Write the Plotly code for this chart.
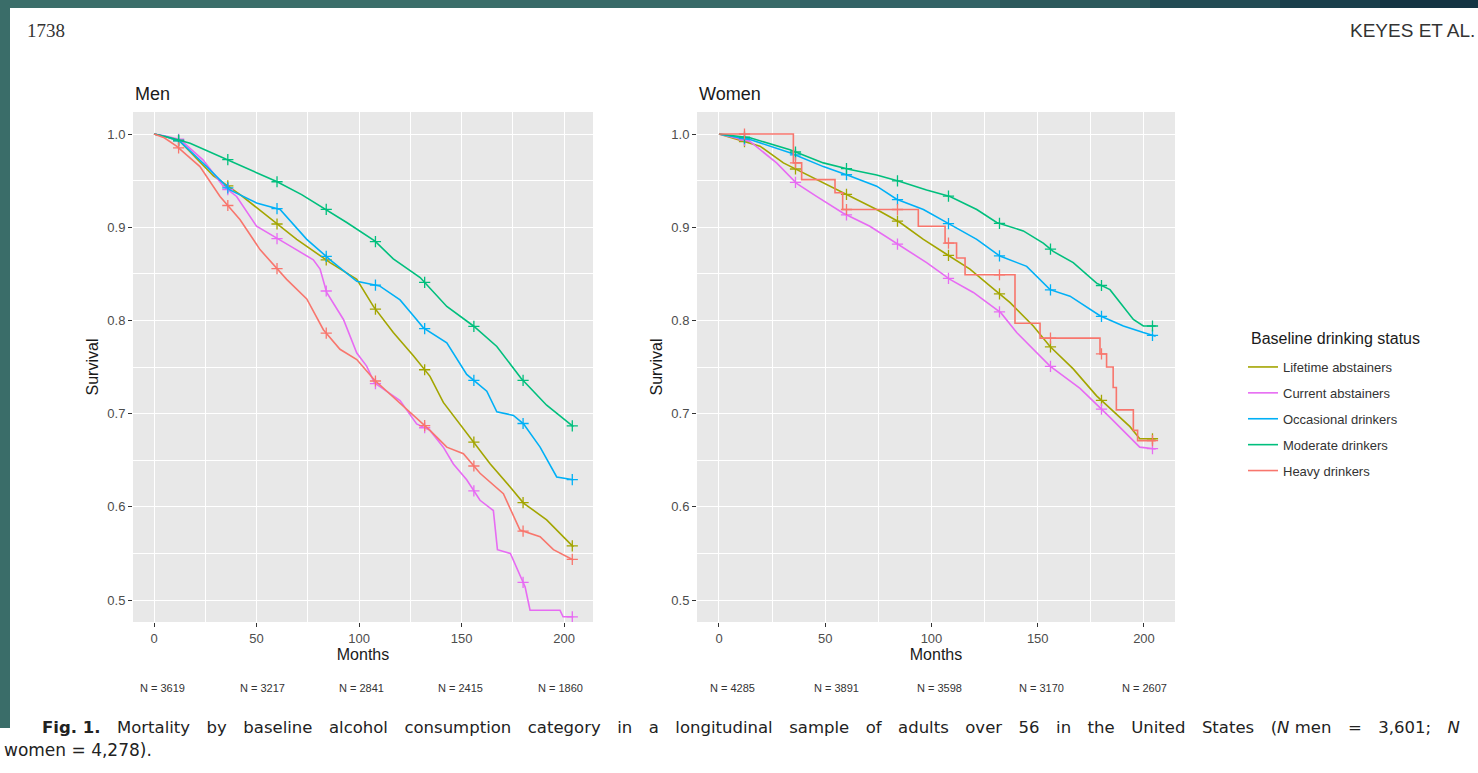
import numpy as np
import plotly.graph_objects as go

W, H = 1478, 773

# ---------------- data ----------------
CATEGORIES = ["Lifetime abstainers", "Current abstainers", "Occasional drinkers",
              "Moderate drinkers", "Heavy drinkers"]

# Men (months, survival)
men_lifetime_t = [0, 6, 12.7, 29, 42, 55, 69.6, 85.9, 98.9, 107, 116.7, 126.5, 134.6, 141.1, 154.1, 164, 173.8, 180.2, 191.5, 204.5]
men_lifetime_s = [1.0, 0.997, 0.992, 0.955, 0.935, 0.912, 0.887, 0.862, 0.844, 0.815, 0.787, 0.762, 0.740, 0.712, 0.675, 0.646, 0.621, 0.604, 0.586, 0.557]

men_current_t = [0, 5, 12.7, 24, 33.8, 40.3, 50, 58.2, 66.3, 77.7, 81, 84.2, 92.4, 98.9, 103.7, 107.5, 120, 128.1, 134.6, 141.1, 146, 152.5, 159, 165.5, 167.5, 173.8, 181, 183.4, 198, 199.5, 204.5]
men_current_s = [1.0, 0.998, 0.994, 0.972, 0.944, 0.933, 0.901, 0.890, 0.880, 0.865, 0.855, 0.830, 0.801, 0.765, 0.751, 0.733, 0.714, 0.689, 0.682, 0.664, 0.646, 0.629, 0.607, 0.596, 0.554, 0.550, 0.514, 0.489, 0.489, 0.482, 0.482]

men_occasional_t = [0, 6, 12.7, 25.7, 37, 50, 61.5, 74.5, 85.9, 98.9, 110, 120, 126.5, 131.4, 142.8, 152.5, 162.3, 167.2, 175.3, 180.2, 188.3, 196.4, 204.5]
men_occasional_s = [1.0, 0.997, 0.992, 0.965, 0.940, 0.926, 0.919, 0.887, 0.865, 0.842, 0.837, 0.822, 0.805, 0.792, 0.776, 0.742, 0.724, 0.702, 0.698, 0.689, 0.664, 0.632, 0.629]

men_moderate_t = [0, 8, 17.6, 35.4, 47, 59.8, 72, 82.6, 94, 107.8, 116.7, 129.8, 142.8, 155.8, 167.2, 179, 191.5, 204.5]
men_moderate_s = [1.0, 0.996, 0.990, 0.973, 0.962, 0.949, 0.935, 0.921, 0.905, 0.885, 0.866, 0.846, 0.815, 0.794, 0.772, 0.738, 0.709, 0.686]

men_heavy_t = [0, 5, 11, 22.4, 32.2, 42, 51.7, 64.7, 74.5, 82.6, 90.7, 98.9, 107.5, 120, 134.6, 142.8, 150.9, 159, 170.4, 178.5, 188.3, 194.8, 204.5]
men_heavy_s = [1.0, 0.996, 0.987, 0.965, 0.933, 0.908, 0.876, 0.844, 0.823, 0.790, 0.769, 0.758, 0.736, 0.711, 0.682, 0.664, 0.657, 0.636, 0.614, 0.575, 0.568, 0.554, 0.543]

# Women (months, survival)
women_lifetime_t = [0, 19.3, 30.3, 46, 58.5, 74.2, 85.2, 96.2, 107.1, 118.1, 127.5, 137, 147.9, 155.8, 166.7, 177.7, 193.4, 198, 205.5]
women_lifetime_s = [1.0, 0.987, 0.969, 0.951, 0.937, 0.919, 0.905, 0.887, 0.871, 0.855, 0.837, 0.819, 0.794, 0.772, 0.748, 0.719, 0.686, 0.673, 0.673]

women_current_t = [0, 14.6, 27.1, 36.5, 45.9, 58.5, 71, 85.2, 97.7, 108.7, 119.7, 132.7, 140.1, 155.8, 169.9, 184, 193.4, 198, 205.5]
women_current_s = [1.0, 0.992, 0.969, 0.947, 0.933, 0.915, 0.901, 0.880, 0.862, 0.844, 0.830, 0.808, 0.787, 0.751, 0.727, 0.696, 0.675, 0.664, 0.662]

women_occasional_t = [0, 14.6, 33.4, 49.1, 61.6, 74.2, 83.6, 96.2, 108.7, 121.3, 132.2, 144.8, 155.8, 165.2, 179.3, 190.3, 199.7, 205.5]
women_occasional_s = [1.0, 0.994, 0.980, 0.965, 0.955, 0.944, 0.930, 0.919, 0.903, 0.887, 0.869, 0.858, 0.833, 0.826, 0.805, 0.794, 0.787, 0.783]

women_moderate_t = [0, 14.6, 33.4, 49.1, 61.6, 74.2, 85.2, 97.7, 108.7, 121.3, 130.7, 143.2, 152.6, 157.3, 166.7, 177.7, 184, 190.3, 195, 199.7, 205.5]
women_moderate_s = [1.0, 0.996, 0.983, 0.969, 0.962, 0.956, 0.949, 0.940, 0.933, 0.919, 0.905, 0.896, 0.883, 0.874, 0.862, 0.840, 0.833, 0.815, 0.801, 0.794, 0.794]

women_heavy_t = [0, 35.0, 38.9, 54.6, 58.2, 93.8, 106.4, 111.8, 115.8, 139.3, 151.1, 179.3, 182.4, 185.5, 187.0, 195.0, 197.0, 205.5]
women_heavy_s = [1.0, 0.969, 0.951, 0.937, 0.919, 0.901, 0.883, 0.867, 0.849, 0.797, 0.781, 0.764, 0.750, 0.728, 0.704, 0.682, 0.671, 0.671]

CENSOR_MONTHS = [12, 36, 60, 84, 108, 132, 156, 180, 204]

X_TICKS = [0, 50, 100, 150, 200]
Y_TICKS = [0.5, 0.6, 0.7, 0.8, 0.9, 1.0]

RISK_MONTHS = [0, 50, 100, 150, 200]
MEN_AT_RISK = [3619, 3217, 2841, 2415, 1860]
WOMEN_AT_RISK = [4285, 3891, 3598, 3170, 2607]

CAPTION_1 = ("<b>Fig. 1.</b> Mortality by baseline alcohol consumption category in a longitudinal "
             "sample of adults over 56 in the United States (<i>N</i> men = 3,601; <i>N</i>")
CAPTION_2 = "women = 4,278)."

# ---------------- style ----------------
COLORS = {
    "Lifetime abstainers": "#A3A500",
    "Current abstainers": "#E76BF3",
    "Occasional drinkers": "#00B0F6",
    "Moderate drinkers": "#00BF7D",
    "Heavy drinkers": "#F8766D",
}
FONT = "Liberation Sans, Arial, Helvetica, sans-serif"
CAPTION_FONT = "DejaVu Sans, Liberation Sans, Arial, sans-serif"

men_series = {
    "Lifetime abstainers": (men_lifetime_t, men_lifetime_s, "linear"),
    "Current abstainers": (men_current_t, men_current_s, "linear"),
    "Occasional drinkers": (men_occasional_t, men_occasional_s, "linear"),
    "Moderate drinkers": (men_moderate_t, men_moderate_s, "linear"),
    "Heavy drinkers": (men_heavy_t, men_heavy_s, "linear"),
}
women_series = {
    "Lifetime abstainers": (women_lifetime_t, women_lifetime_s, "linear"),
    "Current abstainers": (women_current_t, women_current_s, "linear"),
    "Occasional drinkers": (women_occasional_t, women_occasional_s, "linear"),
    "Moderate drinkers": (women_moderate_t, women_moderate_s, "linear"),
    "Heavy drinkers": (women_heavy_t, women_heavy_s, "hv"),
}


def value_at(t, s, shape, when):
    t = np.asarray(t, float)
    s = np.asarray(s, float)
    if shape == "hv":
        idx = np.searchsorted(t, when, side="right") - 1
        return s[np.clip(idx, 0, len(s) - 1)]
    return np.interp(when, t, s)


fig = go.Figure()

for panel, series, xa, ya in [("men", men_series, "x", "y"), ("women", women_series, "x2", "y2")]:
    for cat in CATEGORIES:
        t, s, shape = series[cat]
        col = COLORS[cat]
        fig.add_trace(go.Scatter(
            x=t, y=s, mode="lines", name=cat, legendgroup=cat,
            showlegend=(panel == "men"), xaxis=xa, yaxis=ya,
            line=dict(color=col, width=1.6, shape=shape),
            hoverinfo="skip"))
        cm = [m for m in CENSOR_MONTHS if m <= max(t)]
        fig.add_trace(go.Scatter(
            x=cm, y=[float(value_at(t, s, shape, m)) for m in cm],
            mode="markers", legendgroup=cat, showlegend=False,
            xaxis=xa, yaxis=ya,
            marker=dict(symbol="cross-thin-open", size=8, color=col,
                        line=dict(color=col, width=1.3)),
            hoverinfo="skip"))


def px_x(p):
    return p / W


def px_y(p):
    return 1 - p / H


axis_common = dict(
    showgrid=True, gridcolor="white", gridwidth=1.2,
    zeroline=False, showline=False,
    ticks="outside", ticklen=4, tickwidth=1, tickcolor="#333333",
    tickfont=dict(family=FONT, size=13, color="#4D4D4D"),
)

y_dom = [px_y(622), px_y(112)]
y_rng = [0.4764, 1.0236]

fig.update_layout(
    width=W, height=H,
    margin=dict(l=0, r=0, t=0, b=0),
    paper_bgcolor="white",
    plot_bgcolor="#E8E8E8",
    font=dict(family=FONT, color="#1A1A1A"),
    xaxis=dict(domain=[px_x(133), px_x(593)], range=[-10.24, 214.1], anchor="y",
               tickvals=X_TICKS, minor=dict(dtick=25, tick0=0, showgrid=True, gridcolor="white", gridwidth=0.6),
               title=dict(text="Months", font=dict(size=16, color="#1A1A1A"), standoff=4), **axis_common),
    yaxis=dict(domain=y_dom, range=y_rng, anchor="x",
               tickvals=Y_TICKS, tickformat=".1f",
               minor=dict(dtick=0.05, tick0=0, showgrid=True, gridcolor="white", gridwidth=0.6),
               title=dict(text="Survival", font=dict(size=16, color="#1A1A1A"), standoff=4), **axis_common),
    xaxis2=dict(domain=[px_x(697), px_x(1175)], range=[-10.35, 214.6], anchor="y2",
                tickvals=X_TICKS, minor=dict(dtick=25, tick0=0, showgrid=True, gridcolor="white", gridwidth=0.6),
                title=dict(text="Months", font=dict(size=16, color="#1A1A1A"), standoff=4), **axis_common),
    yaxis2=dict(domain=y_dom, range=y_rng, anchor="x2",
                tickvals=Y_TICKS, tickformat=".1f",
                minor=dict(dtick=0.05, tick0=0, showgrid=True, gridcolor="white", gridwidth=0.6),
                title=dict(text="Survival", font=dict(size=16, color="#1A1A1A"), standoff=4), **axis_common),
    legend=dict(
        x=px_x(1243), y=px_y(352), xanchor="left", yanchor="top",
        font=dict(size=13, color="#333333"),
        bgcolor="rgba(0,0,0,0)", tracegroupgap=6, itemwidth=30,
    ),
    showlegend=True,
)

annotations = []
# legend title
annotations.append(dict(text="Baseline drinking status", x=px_x(1249), y=px_y(338),
                        xref="paper", yref="paper", xanchor="left", yanchor="middle",
                        showarrow=False, font=dict(size=16, color="#1A1A1A")))
# panel titles
annotations.append(dict(text="Men", x=px_x(133), y=px_y(94), xref="paper", yref="paper",
                        xanchor="left", yanchor="middle", showarrow=False,
                        font=dict(size=18, color="#1A1A1A")))
annotations.append(dict(text="Women", x=px_x(697), y=px_y(94), xref="paper", yref="paper",
                        xanchor="left", yanchor="middle", showarrow=False,
                        font=dict(size=18, color="#1A1A1A")))

# number at risk tables
men_shift = [8, 6, 2, -1, -4]
women_shift = [14, 11, 8, 4, 1]
for i, (m, n) in enumerate(zip(RISK_MONTHS, MEN_AT_RISK)):
    annotations.append(dict(text=f"N = {n}", x=m, xref="x", y=px_y(688), yref="paper",
                            xshift=men_shift[i], showarrow=False, xanchor="center", yanchor="middle",
                            font=dict(size=11, color="#333333")))
for i, (m, n) in enumerate(zip(RISK_MONTHS, WOMEN_AT_RISK)):
    annotations.append(dict(text=f"N = {n}", x=m, xref="x2", y=px_y(688), yref="paper",
                            xshift=women_shift[i], showarrow=False, xanchor="center", yanchor="middle",
                            font=dict(size=11, color="#333333")))

# page header
annotations.append(dict(text="1738", x=px_x(25), y=px_y(31), xref="paper", yref="paper",
                        xanchor="left", yanchor="middle", showarrow=False,
                        font=dict(family="Liberation Serif, Times New Roman, serif", size=19, color="#333333")))
annotations.append(dict(text="KEYES ET AL.", x=px_x(1477), y=px_y(31), xref="paper", yref="paper",
                        xanchor="right", yanchor="middle", showarrow=False,
                        font=dict(size=19, color="#333333")))

# caption (first line is justified in the source: widen the word gaps)
annotations.append(dict(
    text=CAPTION_1.replace(" ", "\u2003").replace("<b>Fig.\u20031.</b>", "<b>Fig. 1.</b>")
                  .replace("<i>N</i>\u2003men", "<i>N</i> men"),
    x=px_x(40), y=px_y(727), xref="paper", yref="paper", xanchor="left", yanchor="middle",
    showarrow=False, font=dict(family=CAPTION_FONT, size=16.5, color="#222222")))
annotations.append(dict(
    text=CAPTION_2,
    x=px_x(2), y=px_y(749.5), xref="paper", yref="paper", xanchor="left", yanchor="middle",
    showarrow=False, font=dict(family=CAPTION_FONT, size=17, color="#222222")))

fig.update_layout(annotations=annotations)

# teal page border (slide background)
shapes = []
band_cols = ["#3B6E6A", "#386A68", "#336366", "#2C595C", "#234B54", "#1A3F4B", "#143443"]
edges = [0, 500, 800, 1000, 1150, 1280, 1380, W]
for c, a, b in zip(band_cols, edges[:-1], edges[1:]):
    shapes.append(dict(type="rect", xref="paper", yref="paper",
                       x0=px_x(a), x1=px_x(b), y0=px_y(8), y1=1,
                       fillcolor=c, line=dict(width=0), layer="below"))
shapes.append(dict(type="rect", xref="paper", yref="paper",
                   x0=0, x1=px_x(10), y0=px_y(728), y1=1,
                   fillcolor="#3A6D69", line=dict(width=0), layer="below"))
fig.update_layout(shapes=shapes)

fig.write_html("out.html", config={"displayModeBar": False},
               post_script="document.body.style.margin='0';document.body.style.overflow='hidden';")
